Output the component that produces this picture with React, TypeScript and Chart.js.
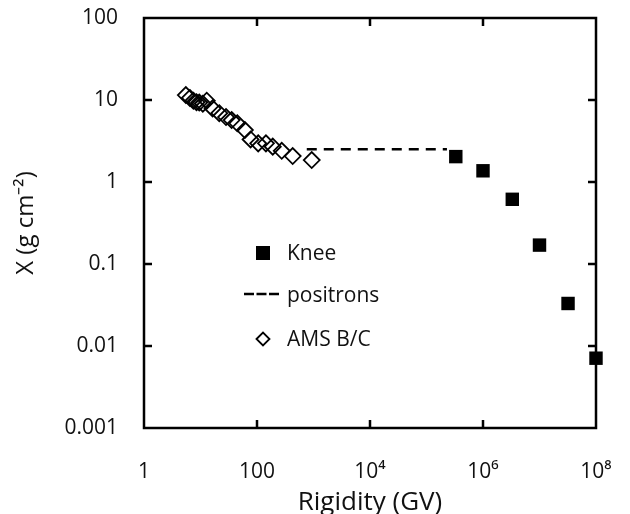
import React, { useEffect, useRef } from "react";
import { Chart, registerables } from "chart.js";

Chart.register(...registerables);

// AMS B/C derived grammage points (rigidity GV, X g/cm^2)
const amsRigidity = [5.5, 6.5, 7.5, 8.5, 9.5, 11, 12.9, 16.4, 21.5, 28.3, 35.6, 44.8, 61, 77, 105, 144, 190, 274, 428, 930];
const amsGrammage = [11.5, 10.6, 9.8, 9.4, 9.3, 9.0, 9.8, 7.9, 6.9, 6.2, 5.7, 5.2, 4.3, 3.3, 2.96, 2.96, 2.7, 2.4, 2.07, 1.85];

// positrons constant grammage line
const positronRigidity = [760, 230000];
const positronGrammage = [2.5, 2.5];

// Knee points
const kneeRigidity = [3.3e5, 1.0e6, 3.3e6, 1.0e7, 3.2e7, 1.0e8];
const kneeGrammage = [2.04, 1.37, 0.615, 0.17, 0.033, 0.0071];

const xTickValues = [1, 100, 1e4, 1e6, 1e8];
const xTickLabels = ["1", "100", "10\u2074", "10\u2076", "10\u2078"];
const yTickValues = [0.001, 0.01, 0.1, 1, 10, 100];
const yTickLabels = ["0.001", "0.01", "0.1", "1", "10", "100"];

const seriesNames = ["Knee", "positrons", "AMS B/C"];

const FONT = "'Open Sans', sans-serif";
const TEXT = "#111";

const framePlugin = {
  id: "frameAndLegend",
  afterDraw(chart: any) {
    const { ctx, chartArea } = chart;
    const { left, right, top, bottom } = chartArea;
    const xs = chart.scales.x;
    const ys = chart.scales.y;
    ctx.save();
    ctx.strokeStyle = "#000";
    ctx.lineWidth = 2.5;
    ctx.strokeRect(left, top, right - left, bottom - top);
    const tl = 8;
    ctx.beginPath();
    xTickValues.forEach((v) => {
      const px = xs.getPixelForValue(v);
      if (px > left + 1 && px < right - 1) {
        ctx.moveTo(px, bottom);
        ctx.lineTo(px, bottom - tl);
        ctx.moveTo(px, top);
        ctx.lineTo(px, top + tl);
      }
    });
    yTickValues.forEach((v) => {
      const py = ys.getPixelForValue(v);
      if (py > top + 1 && py < bottom - 1) {
        ctx.moveTo(left, py);
        ctx.lineTo(left + tl, py);
        ctx.moveTo(right, py);
        ctx.lineTo(right - tl, py);
      }
    });
    ctx.stroke();

    // legend
    const lx = left + 119; // marker center x
    const tx = left + 143;
    const rows = [253, 296, 339];
    ctx.font = `21px ${FONT}`;
    ctx.textBaseline = "middle";
    ctx.textAlign = "left";
    // Knee
    ctx.fillStyle = "#000";
    ctx.fillRect(lx - 7, rows[0] - 7, 14, 14);
    ctx.fillStyle = TEXT;
    ctx.fillText(seriesNames[0], tx, rows[0] + 1);
    // positrons
    ctx.beginPath();
    ctx.setLineDash([10, 2.5]);
    ctx.lineWidth = 2.5;
    ctx.moveTo(lx - 19, rows[1] - 2);
    ctx.lineTo(lx + 16, rows[1] - 2);
    ctx.stroke();
    ctx.setLineDash([]);
    ctx.fillText(seriesNames[1], tx, rows[1]);
    // AMS B/C
    ctx.beginPath();
    ctx.lineWidth = 1.8;
    const r = 6.5;
    ctx.moveTo(lx - r, rows[2]);
    ctx.lineTo(lx, rows[2] - r);
    ctx.lineTo(lx + r, rows[2]);
    ctx.lineTo(lx, rows[2] + r);
    ctx.closePath();
    ctx.stroke();
    ctx.fillText(seriesNames[2], tx, rows[2] + 1);
    ctx.restore();
  },
};

export default function App() {
  const ref = useRef<HTMLCanvasElement | null>(null);
  useEffect(() => {
    if (!ref.current) return;
    const chart = new Chart(ref.current, {
      type: "scatter",
      data: {
        datasets: [
          {
            label: seriesNames[1],
            data: positronRigidity.map((x, i) => ({ x, y: positronGrammage[i] })),
            showLine: true,
            borderColor: "#000",
            borderWidth: 2.5,
            borderDash: [10, 7],
            pointRadius: 0,
            clip: false as any,
          },
          {
            label: seriesNames[2],
            data: amsRigidity.map((x, i) => ({ x, y: amsGrammage[i] })),
            pointStyle: "rectRot",
            pointRadius: 8,
            pointBorderWidth: 1.8,
            pointBorderColor: "#000",
            pointBackgroundColor: "rgba(255,255,255,0)",
            showLine: false,
            clip: false as any,
          },
          {
            label: seriesNames[0],
            data: kneeRigidity.map((x, i) => ({ x, y: kneeGrammage[i] })),
            pointStyle: "rect",
            pointRadius: 9.5,
            pointBorderWidth: 0,
            pointBackgroundColor: "#000",
            pointBorderColor: "#000",
            showLine: false,
            clip: false as any,
          },
        ],
      },
      options: {
        animation: false,
        responsive: false,
        devicePixelRatio: 1,
        layout: { padding: { left: 0, right: 34, top: 18, bottom: 0 } },
        plugins: { legend: { display: false }, tooltip: { enabled: false } },
        scales: {
          x: {
            type: "logarithmic",
            min: 1,
            max: 1e8,
            afterBuildTicks: (s: any) => {
              s.ticks = xTickValues.map((v) => ({ value: v }));
            },
            afterFit: (s: any) => {
              s.height = 86;
              s.paddingLeft = 0;
              s.paddingRight = 0;
            },
            grid: { display: false, drawTicks: false },
            border: { display: false },
            ticks: {
              padding: 31,
              color: TEXT,
              font: { family: FONT, size: 21 },
              maxRotation: 0,
              autoSkip: false,
              callback: (v: any) => {
                const i = xTickValues.indexOf(Number(v));
                return i >= 0 ? xTickLabels[i] : "";
              },
            },
            title: {
              display: true,
              text: "Rigidity (GV)",
              color: TEXT,
              font: { family: FONT, size: 26, lineHeight: 0.8 },
              padding: { top: 0, bottom: 1 },
            },
          },
          y: {
            type: "logarithmic",
            min: 0.001,
            max: 100,
            afterBuildTicks: (s: any) => {
              s.ticks = yTickValues.map((v) => ({ value: v }));
            },
            afterFit: (s: any) => {
              s.width = 144;
              s.paddingTop = 0;
              s.paddingBottom = 0;
            },
            grid: { display: false, drawTicks: false },
            border: { display: false },
            ticks: {
              padding: 26,
              color: TEXT,
              font: { family: FONT, size: 21 },
              autoSkip: false,
              callback: (v: any) => {
                const i = yTickValues.findIndex((t) => Math.abs(t - Number(v)) / t < 1e-6);
                return i >= 0 ? yTickLabels[i] : "";
              },
            },
            title: {
              display: true,
              text: "X (g cm\u207B\u00B2)",
              color: TEXT,
              font: { family: FONT, size: 24 },
              padding: { top: 12, bottom: 0 },
            },
          },
        },
      },
      plugins: [framePlugin],
    });
    return () => chart.destroy();
  }, []);
  return (
    <div style={{ position: "fixed", left: 0, top: 0, width: 630, height: 514, background: "#fff" }}>
      <canvas ref={ref} width={630} height={514} style={{ width: 630, height: 514 }} />
    </div>
  );
}
